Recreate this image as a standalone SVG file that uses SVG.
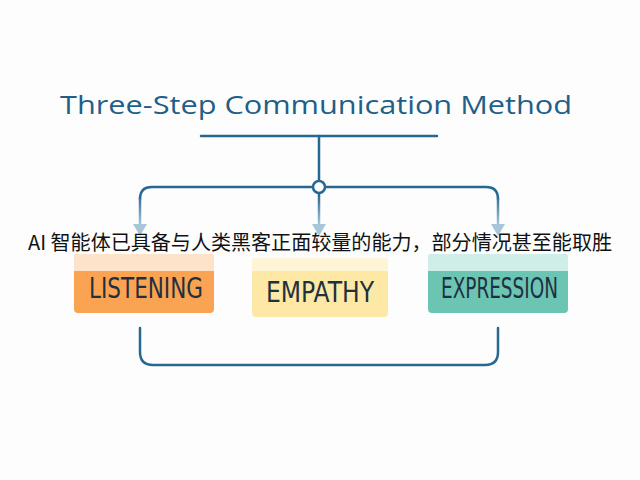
<svg xmlns="http://www.w3.org/2000/svg" width="640" height="480" viewBox="0 0 640 480">
<defs>
<style>
.ln{fill:none;stroke:#276892;stroke-width:2.5;stroke-linecap:round}
.lbl{font-family:"DejaVu Sans Condensed","DejaVu Sans",sans-serif;font-size:29px;fill:#1f3140}
.title{font-family:"Open Sans","Noto Sans",sans-serif;font-size:26px;fill:#1f5f88}
.cap{font-family:"Noto Sans CJK SC","Noto Sans",sans-serif;font-size:20px;fill:#111}
.arr{fill:#a8c6da}
</style>
<linearGradient id="fade" gradientUnits="userSpaceOnUse" x1="0" y1="195" x2="0" y2="228">
<stop offset="0" stop-color="#276892"/>
<stop offset="1" stop-color="#b6d0e0"/>
</linearGradient>
</defs>
<rect width="640" height="480" fill="#fdfdfd"/>
<text class="title" x="316" y="114" text-anchor="middle" textLength="512" lengthAdjust="spacingAndGlyphs">Three-Step Communication Method</text>
<g id="connectors">
<line class="ln" x1="201" y1="136" x2="437" y2="136"/>
<line class="ln" x1="319" y1="136" x2="319" y2="181"/>
<path class="ln" d="M313 187 H152 Q140 187 140 199"/>
<path class="ln" d="M325 187 H486 Q498 187 498 199"/>
<path d="M140 198 V226 M319 193 V226 M498 198 V226" fill="none" stroke="url(#fade)" stroke-width="2.5"/>
<circle cx="319" cy="187" r="6" fill="#fff" stroke="#276892" stroke-width="2.5"/>
<polygon class="arr" points="133,224 147,224 140,236"/>
<polygon class="arr" points="312,224 326,224 319,236"/>
<polygon class="arr" points="491,224 505,224 498,236"/>
<path class="ln" d="M140 328 V352 Q140 365 153 365 H485 Q498 365 498 352 V328"/>
</g>
<g id="listening">
<rect x="74" y="254" width="140" height="59" rx="4" fill="#faa352"/>
<path d="M78 254 H210 Q214 254 214 258 V271 H74 V258 Q74 254 78 254 Z" fill="#fde3c9"/>
<text class="lbl" x="89" y="298" textLength="114" lengthAdjust="spacingAndGlyphs">LISTENING</text>
</g>
<g id="empathy">
<rect x="252" y="258" width="136" height="59" rx="4" fill="#fde8a5"/>
<path d="M256 258 H384 Q388 258 388 262 V271 H252 V262 Q252 258 256 258 Z" fill="#fef4d6"/>
<text class="lbl" x="266" y="302" textLength="108" lengthAdjust="spacingAndGlyphs">EMPATHY</text>
</g>
<g id="expression">
<rect x="428" y="254" width="140" height="59" rx="4" fill="#6cc5b3"/>
<path d="M432 254 H564 Q568 254 568 258 V271 H428 V258 Q428 254 432 254 Z" fill="#cfeee7"/>
<text class="lbl" x="441" y="298" textLength="117" lengthAdjust="spacingAndGlyphs">EXPRESSION</text>
</g>
<text class="cap" x="28" y="250" textLength="584" lengthAdjust="spacingAndGlyphs">AI 智能体已具备与人类黑客正面较量的能力，部分情况甚至能取胜</text>
</svg>
